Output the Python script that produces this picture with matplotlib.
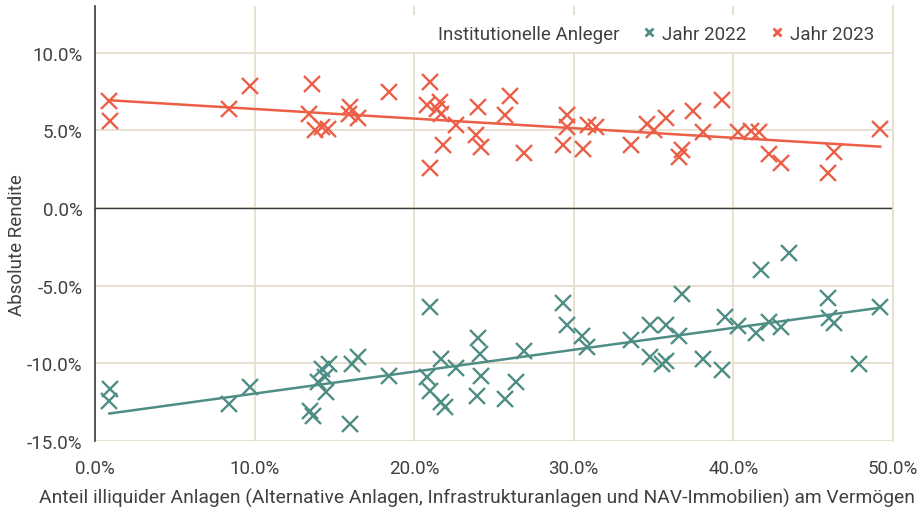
import numpy as np
import matplotlib
matplotlib.use("Agg")
import matplotlib.pyplot as plt
from matplotlib.lines import Line2D
from matplotlib.ticker import FuncFormatter, MultipleLocator

plt.rcParams['font.family'] = ['Roboto', 'DejaVu Sans']

# Anteil illiquider Anlagen (%) und absolute Rendite (%)
x_2022 = [0.94, 0.9, 8.4, 9.7, 13.47, 13.64, 14.2, 14.68, 14.0, 14.5, 14.4, 16.0, 16.08,
          16.5, 18.4, 21.0, 20.8, 21.0, 21.7, 21.9, 21.7, 22.6, 24.0, 24.1, 24.2, 23.95,
          26.9, 26.4, 25.7, 29.3, 29.6, 30.5, 30.8, 33.6, 34.8, 35.8, 36.6, 36.8, 34.8,
          35.5, 35.8, 38.1, 39.3, 39.5, 40.3, 41.4, 41.7, 42.2, 43.0, 43.5, 45.9, 46.0,
          46.3, 47.9, 49.2]
y_2022 = [-11.66, -12.41, -12.63, -11.55, -13.06, -13.38, -10.37, -10.05, -11.23, -11.87,
          -10.9, -13.92, -10.05, -9.61, -10.8, -6.35, -10.9, -11.77, -12.5, -12.8, -9.72,
          -10.32, -8.39, -9.4, -10.8, -12.09, -9.19, -11.23, -12.3, -6.11, -7.53, -8.22,
          -8.97, -8.5, -7.51, -7.51, -8.22, -5.57, -9.61, -10.05, -9.83, -9.72, -10.41,
          -7.03, -7.57, -8.05, -4.02, -7.36, -7.68, -2.88, -5.79, -7.1, -7.4, -10.05, -6.39]

x_2023 = [0.9, 0.95, 8.4, 9.7, 13.6, 13.4, 13.8, 14.2, 14.6, 16.0, 15.9, 16.5, 18.4, 21.0,
          20.8, 21.6, 21.4, 21.7, 22.6, 21.8, 21.0, 24.0, 23.9, 24.2, 26.0, 25.7, 26.9,
          29.6, 29.6, 29.3, 30.6, 30.9, 31.4, 33.6, 34.6, 35.0, 35.8, 37.5, 38.1, 36.8,
          36.6, 39.3, 40.3, 41.1, 41.6, 42.2, 43.0, 46.3, 45.9, 49.2]
y_2023 = [6.9, 5.6, 6.34, 7.87, 7.97, 6.08, 5.05, 5.2, 5.1, 6.5, 6.08, 5.76, 7.44, 8.13,
          6.62, 6.84, 6.4, 6.08, 5.33, 4.04, 2.58, 6.5, 4.68, 3.94, 7.2, 5.97, 3.57, 5.97,
          5.2, 4.04, 3.78, 5.37, 5.2, 4.08, 5.4, 5.0, 5.76, 6.26, 4.86, 3.72, 3.29, 6.94,
          4.9, 4.94, 4.9, 3.5, 2.92, 3.6, 2.28, 5.1]

labels = ["Institutionelle Anleger", "Jahr 2022", "Jahr 2023"]
GREEN = "#4f8e85"
ORANGE = "#ec5f46"
GRID = "#e6ddcc"
TXT = "#404040"

fig = plt.figure(figsize=(9.2, 5.1), dpi=100)
ax = fig.add_axes([95/920, 1 - 442/510, (893 - 95)/920, (442 - 7)/510])

for xs, ys, c in [(x_2022, y_2022, GREEN), (x_2023, y_2023, ORANGE)]:
    ax.plot(xs, ys, ls='none', marker='x', ms=12, mew=1.7, color=c, zorder=3)
    k, d = np.polyfit(xs, ys, 1)
    xx = np.array([min(xs), max(xs)])
    ax.plot(xx, k * xx + d, color=c, lw=1.8, zorder=4)

ax.axhline(0, color="#3a3a3a", lw=1.0, zorder=2)
ax.set_xlim(0, 50)
ax.set_ylim(-15, 13)
ax.xaxis.set_major_locator(MultipleLocator(10))
ax.yaxis.set_major_locator(MultipleLocator(5))
ax.xaxis.set_major_formatter(FuncFormatter(lambda v, p: f"{v:.1f}%"))
ax.yaxis.set_major_formatter(FuncFormatter(lambda v, p: f"{v:.1f}%"))
ax.grid(True, color=GRID, lw=1.3, zorder=0)
ax.set_axisbelow(True)
for s in ['top', 'bottom']:
    ax.spines[s].set_visible(False)
ax.spines['right'].set_color(GRID)
ax.spines['right'].set_linewidth(1.3)
ax.spines['left'].set_color("#3a3a3a")
ax.spines['left'].set_linewidth(1.2)
ax.tick_params(axis='both', length=0, labelsize=13.5, labelcolor=TXT)
ax.tick_params(axis='y', pad=9)
ax.tick_params(axis='x', pad=13)

handles = [Line2D([], [], ls='none'),
           Line2D([], [], ls='none', marker='x', ms=6, mew=2, color=GREEN),
           Line2D([], [], ls='none', marker='x', ms=6, mew=2, color=ORANGE)]
leg = ax.legend(handles, labels, ncol=3, loc='upper right', bbox_to_anchor=(1.0, 1.0),
                frameon=True, facecolor='white', edgecolor='none', framealpha=1,
                fontsize=13.5, handlelength=0.8, handletextpad=0.3, columnspacing=1.2,
                borderpad=0.5)
for t in leg.get_texts():
    t.set_color(TXT)

fig.text(17/920, 1 - 245/510, "Absolute Rendite", rotation=90, ha='center', va='center',
         fontsize=13.5, color=TXT)
fig.text(477/920, 1 - 498/510,
         "Anteil illiquider Anlagen (Alternative Anlagen, Infrastrukturanlagen und NAV-Immobilien) am Vermögen",
         ha='center', va='center', fontsize=13.9, color=TXT)

fig.savefig("out.png", dpi=100, facecolor='white')
